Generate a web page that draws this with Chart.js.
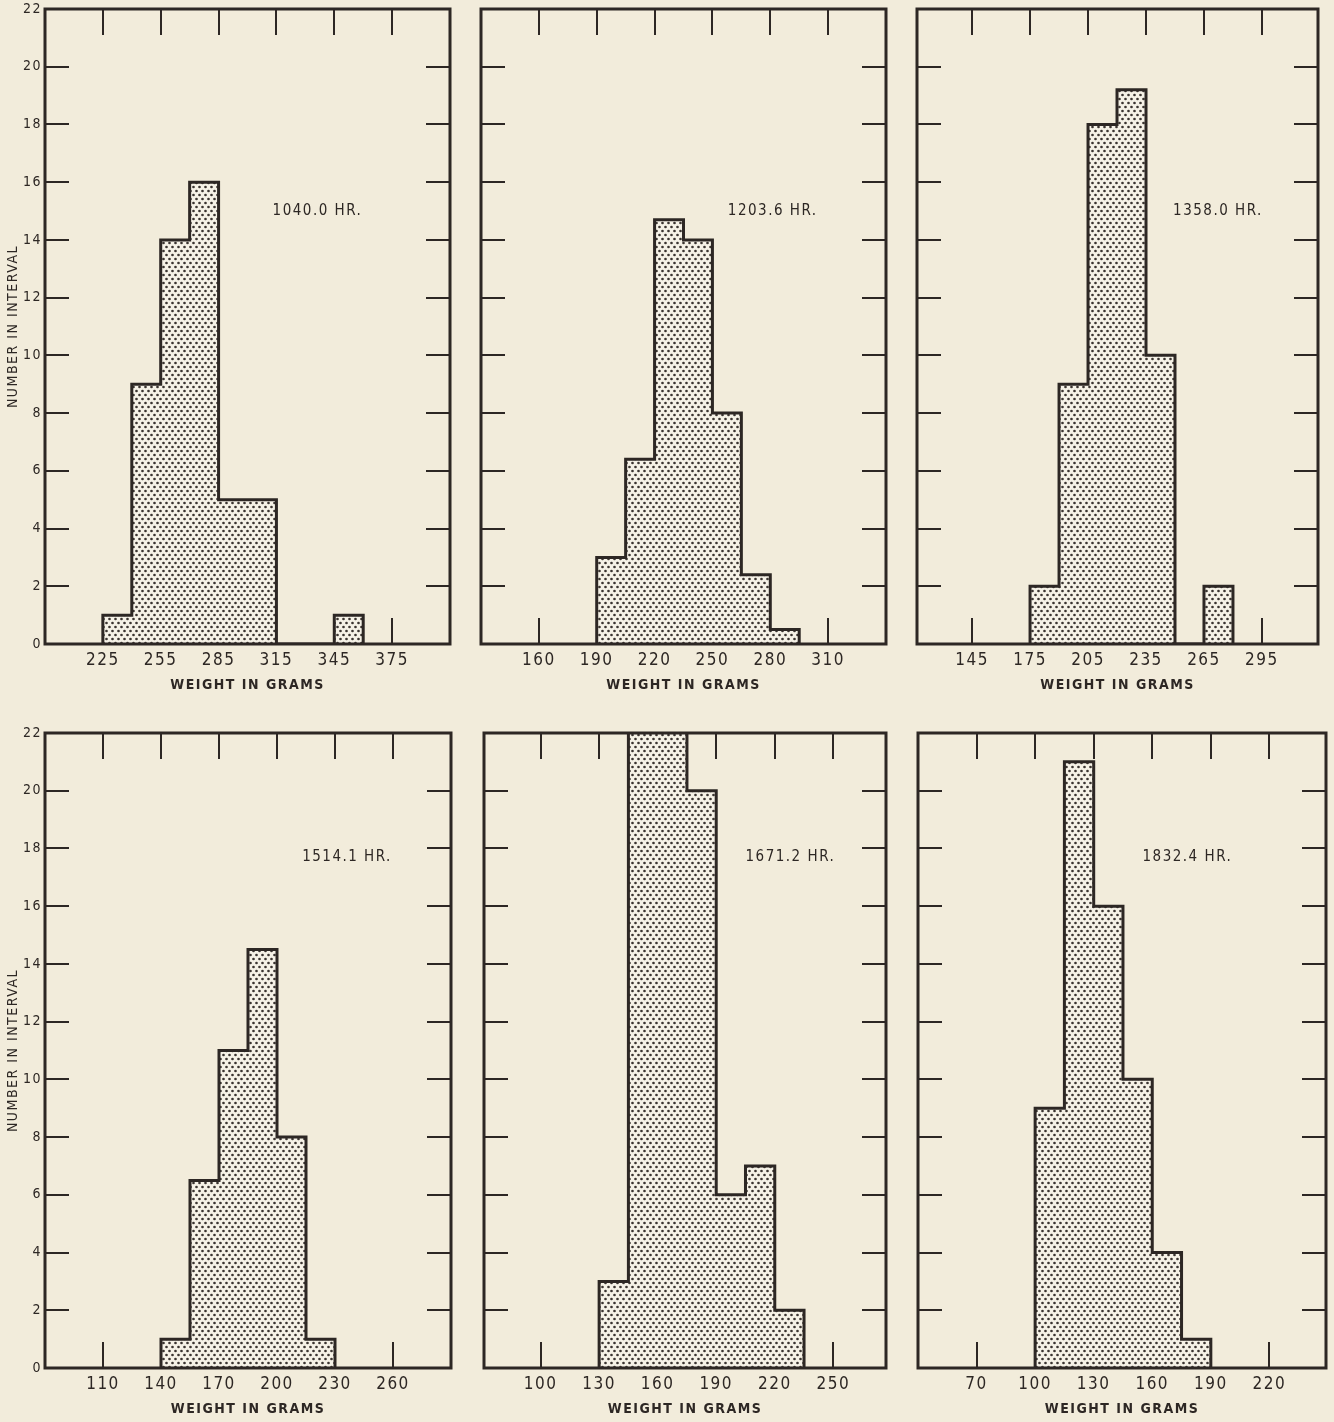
<!DOCTYPE html>
<html>
<head>
<meta charset="utf-8">
<script src="https://cdn.jsdelivr.net/npm/chart.js@4.4.1/dist/chart.umd.min.js"></script>
<style>
html,body{margin:0;padding:0;}
body{width:1334px;height:1422px;background:#f2ecdb;position:relative;overflow:hidden;}
canvas{position:absolute;}
</style>
</head>
<body>
<script>
// operating hours for each panel
const hours=["1040.0 HR.","1203.6 HR.","1358.0 HR.","1514.1 HR.","1671.2 HR.","1832.4 HR."];

// histogram bins: 15 g wide, first bin start per panel
const binWidth=15;
const binStart=[225,190,175,140,130,100];

// number in interval, one value per bin
const counts1040=[1,9,14,16,5,5,0,0,1];
const counts1203=[3,6.4,14.7,14,8,2.4,0.5];
const counts1358=[2,9,18,19.2,10,0,2];
const counts1514=[1,6.5,11,14.5,8,1];
const counts1671=[3,24,24,20,6,7,2];
const counts1832=[9,21,16,10,4,1];
const counts=[counts1040,counts1203,counts1358,counts1514,counts1671,counts1832];

// weight tick labels
const xTicks1040=[225,255,285,315,345,375];
const xTicks1203=[160,190,220,250,280,310];
const xTicks1358=[145,175,205,235,265,295];
const xTicks1514=[110,140,170,200,230,260];
const xTicks1671=[100,130,160,190,220,250];
const xTicks1832=[70,100,130,160,190,220];
const xTicks=[xTicks1040,xTicks1203,xTicks1358,xTicks1514,xTicks1671,xTicks1832];
const yTicks=[0,2,4,6,8,10,12,14,16,18,20,22];

// axis ranges
const xMin=[195,130,116.5,80,71,40];
const xMax=[405,340,324,290,277,249];

// where the hour label sits (data units)
const labelX=[313,258,249,213,205,155];
const labelY=[15,15,15,17.7,17.7,17.7];

// page layout: plot frame of each panel in px
const boxes=[
{l:45,t:9,r:450,b:644},
{l:481,t:9,r:886,b:644},
{l:917,t:9,r:1318,b:644},
{l:45,t:733,r:451,b:1368},
{l:484,t:733,r:886,b:1368},
{l:918,t:733,r:1326,b:1368}
];
const L=45,T=8,R=6,B=55;

const ink="#2d2724";
const FONT="'Liberation Sans Narrow','DejaVu Sans Condensed','Liberation Sans',sans-serif";

function dotPattern(ctx){
const c=document.createElement("canvas");
c.width=6;c.height=8;
const g=c.getContext("2d");
g.fillStyle="#f6f2e7";
g.fillRect(0,0,6,8);
g.fillStyle="#3a3430";
[[1.5,2],[4.5,6]].forEach(p=>{
g.beginPath();
g.arc(p[0],p[1],1.35,0,Math.PI*2);
g.fill();
});
return ctx.createPattern(c,"repeat");
}

function steps(start,vals){
const pts=[{x:start,y:0}];
vals.forEach((v,i)=>pts.push({x:start+i*binWidth,y:v}));
pts.push({x:start+vals.length*binWidth,y:0});
return pts;
}

const framePlugin={
id:"frame",
beforeDraw(chart){
chart.ctx.letterSpacing="1.5px";
},
beforeDatasetsDraw(chart){
const {ctx,chartArea:a,scales:{x,y}}=chart;
ctx.save();
ctx.strokeStyle=ink;
ctx.lineWidth=2;
ctx.beginPath();
y.ticks.forEach(t=>{
if(t.value<=0||t.value>=22) return;
const py=Math.round(y.getPixelForValue(t.value));
ctx.moveTo(a.left,py);ctx.lineTo(a.left+24,py);
ctx.moveTo(a.right,py);ctx.lineTo(a.right-24,py);
});
x.ticks.forEach(t=>{
const px=Math.round(x.getPixelForValue(t.value));
ctx.moveTo(px,a.top);ctx.lineTo(px,a.top+26);
ctx.moveTo(px,a.bottom);ctx.lineTo(px,a.bottom-26);
});
ctx.stroke();
ctx.restore();
},
afterDatasetsDraw(chart,args,opts){
const {ctx,chartArea:a,scales:{x,y}}=chart;
ctx.save();
ctx.strokeStyle=ink;
ctx.lineWidth=3;
ctx.strokeRect(a.left,a.top,a.right-a.left,a.bottom-a.top);
ctx.fillStyle=ink;
ctx.font="15px "+FONT;
ctx.letterSpacing="1.5px";
ctx.textBaseline="middle";
ctx.textAlign="left";
ctx.fillText(opts.text,x.getPixelForValue(opts.x),y.getPixelForValue(opts.y));
ctx.restore();
}
};

boxes.forEach((b,i)=>{
const cv=document.createElement("canvas");
const w=L+(b.r-b.l)+R;
const h=T+(b.b-b.t)+B;
cv.width=w;cv.height=h;
cv.style.left=(b.l-L)+"px";
cv.style.top=(b.t-T)+"px";
cv.style.width=w+"px";
cv.style.height=h+"px";
document.body.appendChild(cv);
const ctx=cv.getContext("2d");
const first=i%3===0;

new Chart(cv,{
type:"line",
data:{
datasets:[{
data:steps(binStart[i],counts[i]),
stepped:"before",
fill:"origin",
backgroundColor:dotPattern(ctx),
borderColor:ink,
borderWidth:3,
pointRadius:0
}]
},
options:{
responsive:false,
animation:false,
layout:{padding:{top:T,right:R,left:0,bottom:0}},
plugins:{
legend:{display:false},
tooltip:{enabled:false},
frame:{text:hours[i],x:labelX[i],y:labelY[i]}
},
scales:{
x:{
type:"linear",
min:xMin[i],
max:xMax[i],
afterBuildTicks:s=>{s.ticks=xTicks[i].map(v=>({value:v}));},
afterFit:s=>{s.height=B;s.paddingLeft=0;s.paddingRight=0;},
grid:{display:false,drawTicks:false},
border:{display:false},
ticks:{autoSkip:false,maxRotation:0,padding:6,color:ink,font:{family:FONT,size:17},callback:v=>String(v)},
title:{display:true,text:"WEIGHT IN GRAMS",color:ink,font:{family:FONT,size:14,weight:"bold"},padding:{top:0,bottom:5}}
},
y:{
min:0,
max:22,
afterBuildTicks:s=>{s.ticks=yTicks.map(v=>({value:v}));},
afterFit:s=>{s.width=L;s.paddingTop=0;s.paddingBottom=0;},
grid:{display:false,drawTicks:false},
border:{display:false},
ticks:{display:first,padding:3,color:ink,font:{family:FONT,size:14},callback:v=>String(v)},
title:{display:first,text:"NUMBER IN INTERVAL",color:ink,font:{family:FONT,size:14},padding:{top:5,bottom:0}}
}
}
},
plugins:[framePlugin]
});
});
</script>
</body>
</html>
